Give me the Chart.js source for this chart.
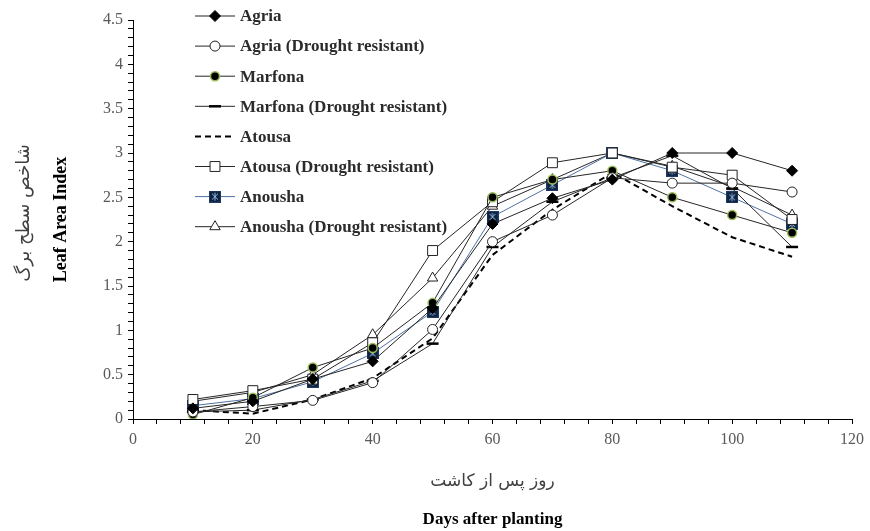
<!DOCTYPE html>
<html><head><meta charset="utf-8">
<script src="https://cdn.jsdelivr.net/npm/chart.js@4/dist/chart.umd.min.js"></script>
<style>html,body{margin:0;padding:0;background:#fff}#wrap{width:870px;height:531px;position:relative}</style>
</head><body><div id="wrap"><canvas id="c" width="870" height="531"></canvas></div>
<script>
const days = [10, 20, 30, 40, 50, 60, 70, 80, 90, 100, 110];
const agria     = [0.12, 0.20, 0.45, 0.65, 1.25, 2.20, 2.49, 2.70, 3.00, 3.00, 2.80];
const agriaDR   = [0.08, 0.14, 0.21, 0.41, 1.01, 2.00, 2.30, 2.72, 2.66, 2.66, 2.56];
const marfona   = [0.05, 0.24, 0.58, 0.80, 1.31, 2.50, 2.70, 2.80, 2.50, 2.30, 2.10];
const marfonaDR = [0.08, 0.10, 0.22, 0.43, 0.85, 1.94, 2.45, 2.72, 2.97, 2.60, 1.94];
const atousa    = [0.10, 0.06, 0.22, 0.46, 0.91, 1.85, 2.36, 2.78, 2.40, 2.05, 1.83];
const atousaDR  = [0.22, 0.32, 0.45, 0.86, 1.90, 2.45, 2.89, 3.00, 2.84, 2.75, 2.25];
const anousha   = [0.15, 0.23, 0.42, 0.74, 1.21, 2.28, 2.64, 3.00, 2.80, 2.50, 2.20];
const anoushaDR = [0.20, 0.30, 0.50, 0.95, 1.59, 2.40, 2.70, 3.00, 2.85, 2.62, 2.30];
const seriesNames = ['Agria', 'Agria (Drought resistant)', 'Marfona', 'Marfona (Drought resistant)',
  'Atousa', 'Atousa (Drought resistant)', 'Anousha', 'Anousha (Drought resistant)'];
const yTitleFa = 'شاخص سطح برگ';
const yTitleEn = 'Leaf Area Index';
const xTitleFa = 'روز پس از کاشت';
const xTitleEn = 'Days after planting';

function pts(arr) { return days.map((d, i) => ({x: d, y: arr[i]})); }

// Anousha marker: navy square with light-blue asterisk
const anoushaMarker = (function () {
  const c = document.createElement('canvas');
  c.width = 12; c.height = 12;
  const g = c.getContext('2d');
  g.fillStyle = '#0e2340';
  g.fillRect(0, 0, 12, 12);
  g.strokeStyle = '#1f3a66';
  g.lineWidth = 1;
  g.strokeRect(0.5, 0.5, 11, 11);
  g.strokeStyle = '#8fb3df';
  g.beginPath();
  g.moveTo(3, 3); g.lineTo(9, 9);
  g.moveTo(9, 3); g.lineTo(3, 9);
  g.moveTo(6, 2); g.lineTo(6, 10);
  g.stroke();
  return c;
})();

const LINE = '#262626';
const datasets = [
  {label: seriesNames[0], data: pts(agria), borderColor: LINE, borderWidth: 1,
   pointStyle: 'rectRot', pointRadius: 5.5, pointBackgroundColor: '#000', pointBorderColor: '#000', pointBorderWidth: 1},
  {label: seriesNames[1], data: pts(agriaDR), borderColor: LINE, borderWidth: 1,
   pointStyle: 'circle', pointRadius: 5, pointBackgroundColor: '#fff', pointBorderColor: '#222', pointBorderWidth: 1},
  {label: seriesNames[2], data: pts(marfona), borderColor: LINE, borderWidth: 1,
   pointStyle: 'circle', pointRadius: 4.5, pointBackgroundColor: '#000', pointBorderColor: '#9bbb59', pointBorderWidth: 1.5},
  {label: seriesNames[3], data: pts(marfonaDR), borderColor: LINE, borderWidth: 1,
   pointStyle: 'line', pointRadius: 6, pointBackgroundColor: '#000', pointBorderColor: '#000', pointBorderWidth: 2.5},
  {label: seriesNames[4], data: pts(atousa), borderColor: '#000', borderWidth: 2, borderDash: [6, 4],
   pointStyle: 'circle', pointRadius: 0, pointBackgroundColor: '#000', pointBorderColor: '#000', pointBorderWidth: 0},
  {label: seriesNames[5], data: pts(atousaDR), borderColor: LINE, borderWidth: 1,
   pointStyle: 'rect', pointRadius: 7, pointBackgroundColor: '#fff', pointBorderColor: '#222', pointBorderWidth: 1},
  {label: seriesNames[6], data: pts(anousha), borderColor: '#4f72a3', borderWidth: 1,
   pointStyle: anoushaMarker, pointRadius: 6, pointBackgroundColor: '#0e2340', pointBorderColor: '#0e2340', pointBorderWidth: 1},
  {label: seriesNames[7], data: pts(anoushaDR), borderColor: LINE, borderWidth: 1,
   pointStyle: 'triangle', pointRadius: 6, pointBackgroundColor: '#fff', pointBorderColor: '#222', pointBorderWidth: 1}
];
datasets.forEach(d => { d.tension = 0; d.fill = false; d.pointHoverRadius = d.pointRadius; });

function drawMarker(ctx, ds, x, y) {
  if (!ds.pointRadius) return;
  const r = ds.pointRadius, st = ds.pointStyle;
  ctx.save();
  ctx.setLineDash([]);
  ctx.fillStyle = ds.pointBackgroundColor;
  ctx.strokeStyle = ds.pointBorderColor;
  ctx.lineWidth = ds.pointBorderWidth;
  if (typeof st !== 'string') { ctx.drawImage(st, x - st.width / 2, y - st.height / 2); ctx.restore(); return; }
  ctx.beginPath();
  if (st === 'circle') { ctx.arc(x, y, r, 0, Math.PI * 2); ctx.fill(); ctx.stroke(); }
  else if (st === 'rectRot') { ctx.moveTo(x, y - r); ctx.lineTo(x + r, y); ctx.lineTo(x, y + r); ctx.lineTo(x - r, y); ctx.closePath(); ctx.fill(); ctx.stroke(); }
  else if (st === 'rect') { const s = r * Math.SQRT1_2; ctx.rect(x - s, y - s, 2 * s, 2 * s); ctx.fill(); ctx.stroke(); }
  else if (st === 'triangle') {
    const h = r * 3 / Math.sqrt(3);
    ctx.moveTo(x, y - h * Math.sqrt(3) / 3);
    ctx.lineTo(x + h / 2, y + h * Math.sqrt(3) / 6);
    ctx.lineTo(x - h / 2, y + h * Math.sqrt(3) / 6);
    ctx.closePath(); ctx.fill(); ctx.stroke();
  }
  else if (st === 'line') { ctx.moveTo(x - r, y); ctx.lineTo(x + r, y); ctx.stroke(); }
  ctx.restore();
}

const extras = {
  id: 'extras',
  afterDraw(chart) {
    const ctx = chart.ctx;
    const ca = chart.chartArea;
    ctx.save();
    // legend
    chart.data.datasets.forEach((ds, i) => {
      const y = 16 + i * 30.1;
      ctx.beginPath();
      ctx.setLineDash(ds.borderDash || []);
      ctx.strokeStyle = ds.borderColor;
      ctx.lineWidth = ds.borderWidth;
      ctx.moveTo(195, y); ctx.lineTo(235, y);
      ctx.stroke();
      ctx.setLineDash([]);
      drawMarker(ctx, ds, 215, y);
      ctx.fillStyle = '#2b2b2b';
      ctx.font = 'bold 17px "Liberation Serif", "Times New Roman", serif';
      ctx.textAlign = 'left';
      ctx.textBaseline = 'middle';
      ctx.fillText(ds.label, 240, y + 1);
    });
    // Persian titles
    ctx.fillStyle = '#404040';
    ctx.font = '17px "DejaVu Sans", sans-serif';
    ctx.textAlign = 'center';
    ctx.textBaseline = 'middle';
    ctx.fillText(xTitleFa, (ca.left + ca.right) / 2, 482);
    ctx.save();
    ctx.font = '18px "DejaVu Sans", sans-serif';
    ctx.translate(24, 213);
    ctx.rotate(-Math.PI / 2);
    ctx.fillText(yTitleFa, 0, 0);
    ctx.restore();
    ctx.restore();
  }
};

new Chart(document.getElementById('c'), {
  type: 'line',
  data: {datasets},
  plugins: [extras],
  options: {
    responsive: false,
    animation: false,
    events: [],
    layout: {padding: {left: 0, top: 20, right: 18, bottom: 0}},
    plugins: {legend: {display: false}, tooltip: {enabled: false}},
    scales: {
      x: {
        type: 'linear', min: 0, max: 120,
        afterFit: s => { s.height = 112; },
        border: {color: '#000', width: 1},
        grid: {drawOnChartArea: false, drawTicks: true, tickLength: 5, color: '#000', tickColor: '#000'},
        ticks: {
          stepSize: 4, autoSkip: false, maxRotation: 0, minRotation: 0, padding: 6,
          color: '#595959', font: {family: '"Liberation Serif", "Times New Roman", serif', size: 16},
          callback: v => (Math.round(v) % 20 === 0 ? String(Math.round(v)) : '')
        },
        title: {display: true, text: xTitleEn, color: '#000', padding: {top: 0, bottom: 1},
          font: {family: '"Liberation Serif", "Times New Roman", serif', size: 17, weight: 'bold'}}
      },
      y: {
        type: 'linear', min: 0, max: 4.5,
        afterFit: s => { s.width = 133; },
        border: {color: '#000', width: 1},
        grid: {drawOnChartArea: false, drawTicks: true, tickLength: 5, color: '#000', tickColor: '#000'},
        ticks: {
          stepSize: 0.1, autoSkip: false, padding: 5,
          color: '#595959', font: {family: '"Liberation Serif", "Times New Roman", serif', size: 16},
          callback: v => { const t = Math.round(v * 10); return t % 5 === 0 ? String(t / 10) : ''; }
        },
        title: {display: true, text: yTitleEn, color: '#000', padding: {top: 51, bottom: 0},
          font: {family: '"Liberation Serif", "Times New Roman", serif', size: 18, weight: 'bold'}}
      }
    }
  }
});
</script></body></html>
